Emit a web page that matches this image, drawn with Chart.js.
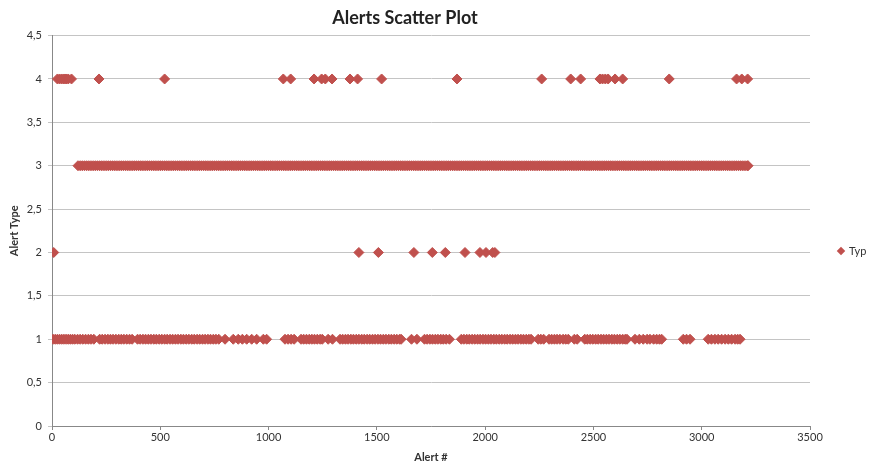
<!DOCTYPE html>
<html>
<head>
<meta charset="utf-8">
<script src="https://cdn.jsdelivr.net/npm/chart.js@4.4.1/dist/chart.umd.min.js"></script>
<style>
  body { margin: 0; background: #fff; }
  #wrap { position: relative; width: 870px; height: 466px; }
  #legend { position: absolute; left: 838px; top: 244px; font: 11px Lato, sans-serif; color: #333; }
  #legend .mk { display: inline-block; width: 6px; height: 6px; background: #C0504D; transform: rotate(45deg); margin-right: 5px; vertical-align: 1px; }
</style>
</head>
<body>
<div id="wrap">
  <canvas id="alertsChart"></canvas>
  <div id="legend"><span class="mk"></span>Typ</div>
</div>
<script>
// alert numbers, grouped by alert type
const type1Alerts = [
  5, 15, 25, 35, 45, 55, 65, 75, 85, 95, 105, 118, 130, 142, 155, 168, 180, 193,
  220, 232, 245, 258, 270, 282, 295, 308, 320, 332, 345, 358, 370,
  395, 407, 420, 432, 445, 457, 470, 482, 495, 507, 520, 532, 545, 557, 570, 582,
  595, 607, 620, 632, 645, 657, 670, 682, 695, 707, 720, 732, 745, 757, 770,
  799, 837, 860, 879, 899, 922, 945, 976, 991,
  1076, 1090, 1104, 1118,
  1150, 1162, 1175, 1188, 1200, 1212, 1225, 1238, 1248, 1275, 1295,
  1330, 1342, 1355, 1367, 1380, 1392, 1405, 1417, 1430, 1442, 1455, 1467,
  1480, 1492, 1505, 1517, 1530, 1542, 1555, 1567, 1580, 1592, 1605, 1612,
  1660, 1685,
  1720, 1732, 1745, 1757, 1770, 1782, 1795, 1807, 1820, 1835,
  1890, 1902, 1915, 1927, 1940, 1952, 1965, 1977, 1990, 2002, 2015, 2027, 2040, 2052,
  2065, 2077, 2090, 2102, 2115, 2127, 2140, 2152, 2165, 2177, 2190, 2202, 2212,
  2245, 2257, 2270, 2295, 2307, 2320, 2332, 2345, 2360, 2372, 2384, 2412, 2425,
  2460, 2472, 2485, 2497, 2510, 2522, 2535, 2547, 2560, 2572, 2585, 2597, 2610, 2622,
  2635, 2647, 2655,
  2692, 2712, 2730, 2748, 2761, 2778, 2792, 2805, 2815,
  2915, 2930, 2946,
  3030, 3045, 3061, 3076, 3092, 3108, 3123, 3138, 3154, 3166, 3177,
];
const type2Alerts = [8, 1417, 1507, 1671, 1756, 1816, 1907, 1976, 2004, 2035, 2045];
const type3Alerts = [
  120, 130, 140, 150, 160, 170, 180, 190, 200, 210, 220, 230, 240, 250, 260, 270,
  280, 290, 300, 310, 320, 330, 340, 350, 360, 370, 380, 390, 400, 410, 420, 430,
  440, 450, 460, 470, 480, 490, 500, 510, 520, 530, 540, 550, 560, 570, 580, 590,
  600, 610, 620, 630, 640, 650, 660, 670, 680, 690, 700, 710, 720, 730, 740, 750,
  760, 770, 780, 790, 800, 810, 820, 830, 840, 850, 860, 870, 880, 890, 900, 910,
  920, 930, 940, 950, 960, 970, 980, 990, 1000, 1010, 1020, 1030, 1040, 1050, 1060, 1070,
  1080, 1090, 1100, 1110, 1120, 1130, 1140, 1150, 1160, 1170, 1180, 1190, 1200, 1210, 1220, 1230,
  1240, 1250, 1260, 1270, 1280, 1290, 1300, 1310, 1320, 1330, 1340, 1350, 1360, 1370, 1380, 1390,
  1400, 1410, 1420, 1430, 1440, 1450, 1460, 1470, 1480, 1490, 1500, 1510, 1520, 1530, 1540, 1550,
  1560, 1570, 1580, 1590, 1600, 1610, 1620, 1630, 1640, 1650, 1660, 1670, 1680, 1690, 1700, 1710,
  1720, 1730, 1740, 1750, 1760, 1770, 1780, 1790, 1800, 1810, 1820, 1830, 1840, 1850, 1860, 1870,
  1880, 1890, 1900, 1910, 1920, 1930, 1940, 1950, 1960, 1970, 1980, 1990, 2000, 2010, 2020, 2030,
  2040, 2050, 2060, 2070, 2080, 2090, 2100, 2110, 2120, 2130, 2140, 2150, 2160, 2170, 2180, 2190,
  2200, 2210, 2220, 2230, 2240, 2250, 2260, 2270, 2280, 2290, 2300, 2310, 2320, 2330, 2340, 2350,
  2360, 2370, 2380, 2390, 2400, 2410, 2420, 2430, 2440, 2450, 2460, 2470, 2480, 2490, 2500, 2510,
  2520, 2530, 2540, 2550, 2560, 2570, 2580, 2590, 2600, 2610, 2620, 2630, 2640, 2650, 2660, 2670,
  2680, 2690, 2700, 2710, 2720, 2730, 2740, 2750, 2760, 2770, 2780, 2790, 2800, 2810, 2820, 2830,
  2840, 2850, 2860, 2870, 2880, 2890, 2900, 2910, 2920, 2930, 2940, 2950, 2960, 2970, 2980, 2990,
  3000, 3010, 3020, 3030, 3040, 3050, 3060, 3070, 3080, 3090, 3100, 3110, 3120, 3130, 3140, 3150,
  3160, 3170, 3180, 3190, 3200, 3210, 3214,
];
const type4Alerts = [
  25, 35, 45, 55, 65, 75, 90, 217, 520, 1068, 1102, 1210, 1245, 1262, 1293, 1376, 1411, 1522,
  1870, 2261, 2395, 2441, 2530, 2542, 2555, 2568, 2600, 2635, 2850, 3161, 3185, 3212,
];

const seriesName = "Typ";
const alertsByType = [
  [1, type1Alerts],
  [2, type2Alerts],
  [3, type3Alerts],
  [4, type4Alerts],
];

const points = [];
alertsByType.forEach(([type, list]) => {
  list.forEach((n) => points.push({ x: n, y: type }));
});

Chart.defaults.font.family = "Lato, 'Open Sans', sans-serif";
Chart.defaults.color = "#333";

const ctx = document.getElementById("alertsChart");
const alertsChart = new Chart(ctx, {
  type: "scatter",
  data: {
    datasets: [
      {
        label: seriesName,
        data: points,
        pointStyle: "rectRot",
        pointRadius: 5,
        borderWidth: 1,
        backgroundColor: "#C0504D",
        borderColor: "#C0504D",
      },
    ],
  },
  options: {
    responsive: true,
    maintainAspectRatio: false,
    animation: false,
    layout: {
      padding: { left: 0, right: 60, top: 0, bottom: 0 },
    },
    scales: {
      x: {
        min: 0,
        max: 3500,
        afterFit: (scale) => { scale.height = 40; },
        ticks: {
          stepSize: 500,
          padding: 1,
          font: { size: 11 },
          callback: (v) => String(v),
        },
        grid: { drawOnChartArea: false, tickLength: 4, color: "#888" },
        border: { color: "#888" },
        title: {
          display: true,
          text: "Alert #",
          font: { size: 11, weight: "bold" },
          padding: { top: 0, bottom: 2 },
        },
      },
      y: {
        min: 0,
        max: 4.5,
        afterFit: (scale) => { scale.width = 52; },
        ticks: {
          stepSize: 0.5,
          padding: 6,
          font: { size: 11 },
          callback: (v) => String(v).replace(".", ","),
        },
        grid: { color: "#c4c4c4", tickLength: 4 },
        border: { color: "#888" },
        title: {
          display: true,
          text: "Alert Type",
          font: { size: 11, weight: "bold" },
          padding: { top: 8, bottom: 0 },
        },
      },
    },
    plugins: {
      legend: { display: false },
      tooltip: { enabled: false },
      title: {
        display: true,
        text: "Alerts Scatter Plot",
        color: "#222",
        font: { size: 18, weight: "bold" },
        padding: { top: 7, bottom: 7 },
      },
    },
  },
});
</script>
</body>
</html>
